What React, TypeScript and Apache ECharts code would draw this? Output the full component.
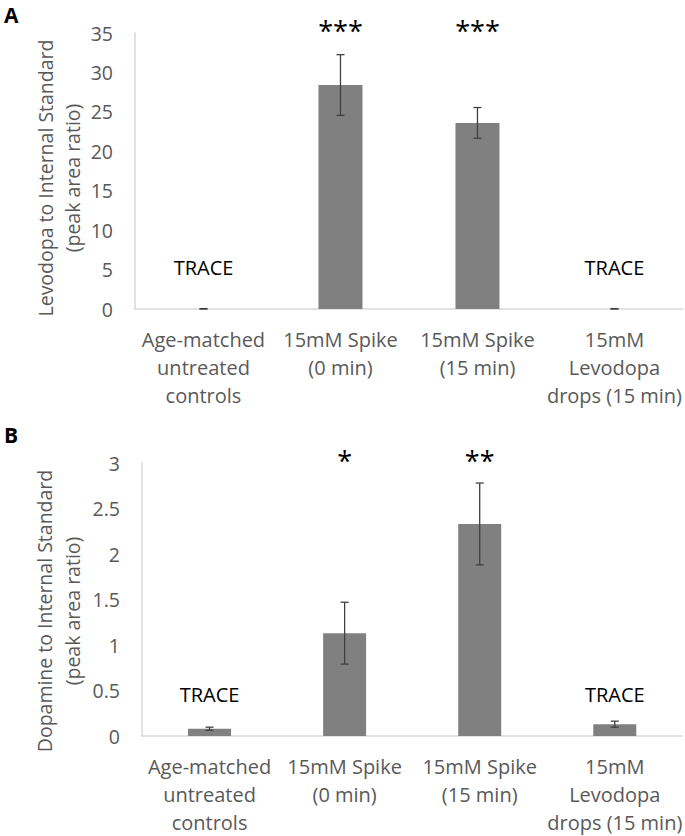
import React, { useEffect, useRef } from "react";
import * as echarts from "echarts";

const categories = [
  "Age-matched\nuntreated\ncontrols",
  "15mM Spike\n(0 min)",
  "15mM Spike\n(15 min)",
  "15mM\nLevodopa\ndrops (15 min)",
];

const levodopaMeans = [0, 28.4, 23.6, 0];
const levodopaErrors = [0.05, 3.85, 1.95, 0.05];
const levodopaMarks = ["TRACE", "***", "***", "TRACE"];

const dopamineMeans = [0.08, 1.13, 2.33, 0.13];
const dopamineErrors = [0.017, 0.34, 0.45, 0.033];
const dopamineMarks = ["TRACE", "*", "**", "TRACE"];

const levodopaTicks = { min: 0, max: 35, interval: 5 };
const dopamineTicks = { min: 0, max: 3, interval: 0.5 };

const FONT = "'Open Sans', 'Noto Sans', sans-serif";
const BAR = "#808080";
const AXIS = "#d9d9d9";
const LABEL = "#595959";
const ERR = "#404040";

function errorSeries(idx: number, means: number[], errs: number[]) {
  return {
    type: "custom",
    xAxisIndex: idx,
    yAxisIndex: idx,
    z: 5,
    clip: false,
    silent: true,
    encode: { x: 0, y: [1, 2] },
    data: means.map((m, i) => [i, Math.max(0, m - errs[i]), m + errs[i]]),
    renderItem: (params: any, api: any) => {
      const i = api.value(0);
      const lo = api.value(1);
      const hi = api.value(2);
      const p1 = api.coord([i, hi]);
      const p2 = api.coord([i, lo]);
      const hw = 4;
      const style = { stroke: ERR, lineWidth: 1.3 };
      return {
        type: "group",
        children: [
          { type: "line", shape: { x1: p1[0], y1: p1[1], x2: p2[0], y2: p2[1] }, style },
          { type: "line", shape: { x1: p1[0] - hw, y1: p1[1], x2: p1[0] + hw, y2: p1[1] }, style },
          { type: "line", shape: { x1: p2[0] - hw, y1: p2[1], x2: p2[0] + hw, y2: p2[1] }, style },
        ],
      };
    },
  };
}

function markSeries(idx: number, marks: string[], axisMax: number) {
  return {
    type: "custom",
    xAxisIndex: idx,
    yAxisIndex: idx,
    z: 6,
    clip: false,
    silent: true,
    encode: { x: 0, y: 1 },
    data: marks.map((_, i) => [i, 0]),
    renderItem: (params: any, api: any) => {
      const i = api.value(0);
      const label = marks[i];
      const base = api.coord([i, 0]);
      const top = api.coord([i, axisMax]);
      const trace = label === "TRACE";
      return {
        type: "text",
        x: base[0],
        y: trace ? base[1] - 42 : top[1] - 3,
        style: {
          text: label,
          fill: "#000",
          font: trace ? `20px ${FONT}` : `27px ${FONT}`,
          fontSize: trace ? 20 : 27,
          fontFamily: FONT,
          align: "center",
          verticalAlign: "middle",
          textAlign: "center",
          textVerticalAlign: "middle",
        },
      };
    },
  };
}

export default function App() {
  const ref = useRef<HTMLDivElement>(null);

  useEffect(() => {
    document.body.style.margin = "0";
    if (!ref.current) return;
    const chart = echarts.init(ref.current, undefined, { renderer: "svg" });

    const xAxisBase = {
      type: "category",
      data: categories,
      axisTick: { show: false },
      axisLine: { show: true, lineStyle: { color: AXIS, width: 1.5 } },
      axisLabel: {
        interval: 0,
        color: LABEL,
        fontSize: 20,
        lineHeight: 28,
        fontFamily: FONT,
        margin: 16,
      },
    };
    const yAxisBase = {
      type: "value",
      axisLine: { show: true, lineStyle: { color: AXIS, width: 1.5 } },
      axisTick: { show: false },
      splitLine: { show: false },
      axisLabel: { color: LABEL, fontSize: 19.5, fontFamily: FONT, margin: 22 },
    };

    const titleText = (text: string, x: number, y: number) => ({
      type: "text",
      x,
      y,
      rotation: Math.PI / 2,
      style: {
        text,
        fill: LABEL,
        font: `19.5px ${FONT}`,
        textAlign: "center",
        textVerticalAlign: "middle",
        align: "center",
        verticalAlign: "middle",
      },
    });

    chart.setOption({
      animation: false,
      backgroundColor: "#fff",
      grid: [
        { left: 135, top: 33, width: 548, height: 276 },
        { left: 142, top: 463, width: 543, height: 276 },
      ],
      xAxis: [
        { ...xAxisBase, gridIndex: 0 },
        { ...xAxisBase, gridIndex: 1 },
      ],
      yAxis: [
        { ...yAxisBase, gridIndex: 0, ...levodopaTicks },
        { ...yAxisBase, gridIndex: 1, ...dopamineTicks },
      ],
      series: [
        {
          type: "bar",
          xAxisIndex: 0,
          yAxisIndex: 0,
          data: levodopaMeans,
          barWidth: 44,
          itemStyle: { color: BAR },
        },
        errorSeries(0, levodopaMeans, levodopaErrors),
        markSeries(0, levodopaMarks, levodopaTicks.max),
        {
          type: "bar",
          xAxisIndex: 1,
          yAxisIndex: 1,
          data: dopamineMeans,
          barWidth: 43,
          itemStyle: { color: BAR },
        },
        errorSeries(1, dopamineMeans, dopamineErrors),
        markSeries(1, dopamineMarks, dopamineTicks.max),
      ],
      graphic: [
        {
          type: "text",
          x: 4,
          y: 4,
          style: { text: "A", fill: "#000", font: `bold 21px ${FONT}` },
        },
        {
          type: "text",
          x: 4,
          y: 424,
          style: { text: "B", fill: "#000", font: `bold 21px ${FONT}` },
        },
        titleText("Levodopa to Internal Standard", 45, 178),
        titleText("(peak area ratio)", 72, 178),
        titleText("Dopamine to Internal Standard", 44, 611),
        titleText("(peak area ratio)", 72, 611),
      ],
    });

    return () => chart.dispose();
  }, []);

  return (
    <div
      ref={ref}
      style={{ position: "absolute", left: 0, top: 0, width: 685, height: 836 }}
    />
  );
}
